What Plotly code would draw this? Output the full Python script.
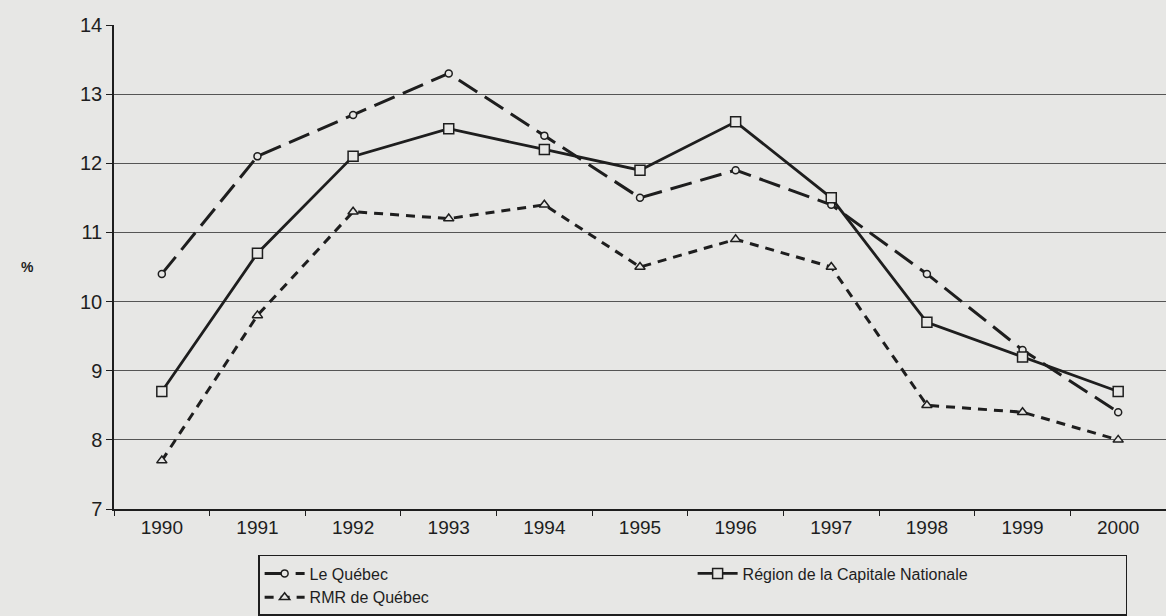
import plotly.graph_objects as go

years = ["1990", "1991", "1992", "1993", "1994", "1995", "1996", "1997", "1998", "1999", "2000"]
le_quebec = [10.4, 12.1, 12.7, 13.3, 12.4, 11.5, 11.9, 11.4, 10.4, 9.3, 8.4]
capitale_nationale = [8.7, 10.7, 12.1, 12.5, 12.2, 11.9, 12.6, 11.5, 9.7, 9.2, 8.7]
rmr_quebec = [7.7, 9.8, 11.3, 11.2, 11.4, 10.5, 10.9, 10.5, 8.5, 8.4, 8.0]

BG = "#e7e7e5"
INK = "#1e1e1e"

fig = go.Figure()
fig.add_trace(go.Scatter(
    x=years, y=le_quebec, name="Le Québec", mode="lines+markers",
    line=dict(color=INK, width=3, dash="22px,9px"),
    marker=dict(symbol="circle", size=7, color=BG, line=dict(color=INK, width=1.5)),
))
fig.add_trace(go.Scatter(
    x=years, y=capitale_nationale, name="Région de la Capitale Nationale", mode="lines+markers",
    line=dict(color=INK, width=2.8),
    marker=dict(symbol="square", size=10, color=BG, line=dict(color=INK, width=1.5)),
))
fig.add_trace(go.Scatter(
    x=years, y=rmr_quebec, name="RMR de Québec", mode="lines+markers",
    line=dict(color=INK, width=3, dash="9px,7px"),
    marker=dict(symbol="triangle-up", size=9, color=BG, line=dict(color=INK, width=1.5)),
))

fig.update_layout(
    width=1166, height=616,
    paper_bgcolor=BG, plot_bgcolor=BG,
    margin=dict(l=114, r=0, t=25, b=105),
    font=dict(family="Liberation Sans, Arial, sans-serif", color=INK, size=15),
    showlegend=True,
    legend=dict(
        orientation="h", x=0.137, xanchor="left", y=-0.095, yanchor="top",
        entrywidth=378, entrywidthmode="pixels",
        bordercolor=INK, borderwidth=1.5, bgcolor=BG,
        font=dict(size=16, color=INK), tracegroupgap=0, itemwidth=40,
    ),
    annotations=[dict(text="<b>%</b>", xref="paper", yref="paper", x=-0.09, y=0.5,
                      showarrow=False, font=dict(size=14, color=INK))],
)
fig.update_xaxes(
    type="category", range=[-0.5, 10.5], showgrid=False,
    showline=True, linecolor=INK, linewidth=1.5,
    ticks="outside", tickson="boundaries", ticklen=5, tickcolor=INK,
    tickfont=dict(size=19),
)
fig.update_yaxes(
    range=[7, 14], dtick=1, showgrid=True, gridcolor="#555555", gridwidth=1,
    showline=True, linecolor=INK, linewidth=1.5, zeroline=False,
    ticks="outside", ticklen=6, tickcolor=INK, tickfont=dict(size=20),
)

fig.write_html(
    "out.html",
    config={"displayModeBar": False},
    post_script="document.body.style.margin='0';document.body.style.background='%s';" % BG,
)
